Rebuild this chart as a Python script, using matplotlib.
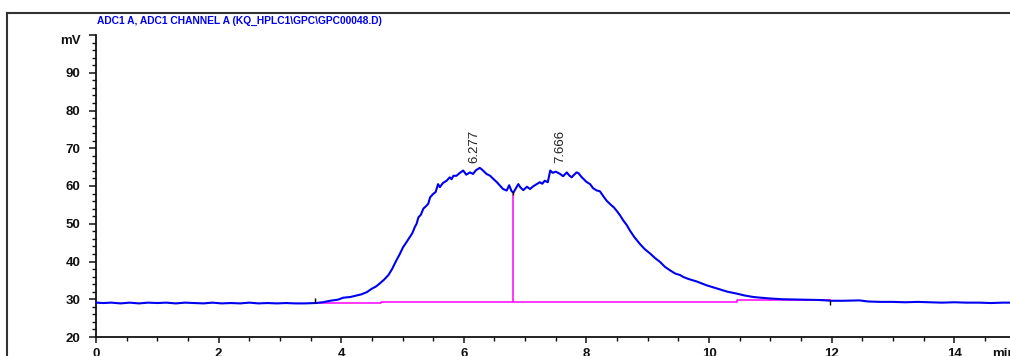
import numpy as np
import matplotlib
matplotlib.use("Agg")
import matplotlib.pyplot as plt
from matplotlib.lines import Line2D

plt.rcParams['font.family'] = ['Liberation Sans', 'DejaVu Sans']

title = r"ADC1 A, ADC1 CHANNEL A (KQ_HPLC1\GPC\GPC00048.D)"

# signal (min, mV)
time_min = [0.00, 0.12, 0.25, 0.40, 0.55, 0.70, 0.85, 1.00, 1.15, 1.30, 1.45, 1.60,
            1.75, 1.90, 2.05, 2.20, 2.35, 2.50, 2.65, 2.80, 2.95, 3.10, 3.25, 3.40,
            3.58, 3.70, 3.82, 3.95, 4.03, 4.15, 4.25, 4.33, 4.42, 4.50, 4.57, 4.63,
            4.70, 4.77, 4.83, 4.90, 4.95, 5.01, 5.06, 5.12, 5.16, 5.20, 5.23, 5.26,
            5.30, 5.34, 5.38, 5.42, 5.45, 5.50, 5.54, 5.58, 5.61, 5.66, 5.72, 5.77,
            5.80, 5.83, 5.88, 5.93, 5.99, 6.04, 6.10, 6.15, 6.20, 6.26, 6.30, 6.37,
            6.43, 6.48, 6.54, 6.59, 6.64, 6.70, 6.74, 6.78, 6.81, 6.85, 6.89, 6.92,
            6.97, 7.03, 7.08, 7.13, 7.19, 7.24, 7.28, 7.32, 7.37, 7.41, 7.45, 7.50,
            7.57, 7.62, 7.68, 7.72, 7.76, 7.80, 7.84, 7.87, 7.92, 8.00, 8.06, 8.11,
            8.17, 8.22, 8.28, 8.33, 8.40, 8.45, 8.49, 8.55, 8.60, 8.66, 8.71, 8.78,
            8.87, 8.95, 9.04, 9.12, 9.20, 9.28, 9.36, 9.45, 9.53, 9.58, 9.66, 9.74,
            9.80, 9.88, 9.96, 10.02, 10.10, 10.18, 10.30, 10.45, 10.58, 10.72, 10.85,
            11.00, 11.20, 11.53, 11.80, 12.00, 12.20, 12.45, 12.60, 12.80, 13.00,
            13.20, 13.40, 13.60, 13.80, 14.00, 14.20, 14.40, 14.60, 14.80, 14.91]
signal_mv = [29.1, 29.0, 29.1, 28.9, 29.1, 28.9, 29.1, 29.0, 29.1, 28.9, 29.1, 29.0,
             28.9, 29.1, 28.9, 29.0, 28.9, 29.1, 28.9, 29.0, 28.9, 29.0, 28.9, 28.9,
             29.0, 29.2, 29.6, 29.9, 30.4, 30.6, 31.0, 31.3, 31.9, 32.8, 33.4, 34.2,
             35.2, 36.4, 38.0, 40.3, 41.8, 43.8, 45.0, 46.5, 47.5, 49.1, 50.0, 51.7,
             52.4, 54.0, 54.6, 55.3, 57.0, 57.9, 58.4, 60.5, 59.7, 60.8, 61.4, 62.3,
             61.8, 62.7, 62.7, 63.4, 64.1, 63.0, 63.6, 63.2, 64.2, 64.8, 64.3, 63.2,
             62.7, 61.9, 61.0, 60.1, 59.2, 58.8, 60.2, 58.6, 58.3, 59.4, 60.5, 59.7,
             58.9, 59.8, 59.2, 59.9, 60.5, 61.0, 60.6, 61.4, 61.0, 64.1, 63.5, 63.8,
             63.2, 62.6, 63.6, 62.8, 62.3, 63.0, 63.6, 63.4, 62.4, 61.1, 60.5, 59.4,
             58.8, 58.6, 57.2, 56.1, 55.0, 54.3, 53.5, 52.2, 50.9, 49.6, 48.2, 46.5,
             44.7, 43.3, 42.1, 40.9, 39.9, 38.6, 37.7, 36.8, 36.4, 35.9, 35.4, 35.0,
             34.7, 34.2, 33.7, 33.4, 33.0, 32.6, 32.0, 31.5, 31.0, 30.6, 30.4,
             30.2, 30.0, 29.9, 29.8, 29.6, 29.6, 29.7, 29.4, 29.3, 29.3,
             29.2, 29.3, 29.2, 29.1, 29.2, 29.1, 29.1, 29.0, 29.1, 29.1]

# integration baseline (drawn stepped, as on the printout)
base_x = [3.58, 4.65, 10.45, 11.97]
base_y = [28.9, 29.2, 29.8, 29.8]
split_time = 6.81
split_base, split_top = 29.2, 58.3

peak_times = [6.277, 7.666]
peak_labels = ["6.277", "7.666"]
peak_heights = [66.0, 66.0]

blue = "#0000f0"
magenta = "#ff00ff"

fig = plt.figure(figsize=(10.10, 3.56), dpi=100)
ax = fig.add_axes([96 / 1010, 19 / 356, (1010 - 96) / 1010, (337 - 35) / 356])

ax.plot(time_min, signal_mv, color=blue, lw=1.5, zorder=3)
ax.plot(base_x, base_y, color=magenta, lw=1.1, drawstyle="steps-post", zorder=2)
ax.vlines(split_time, split_base, split_top, color=magenta, lw=1.1, zorder=2)
ax.vlines(split_time, split_top - 0.8, split_top + 0.3, color="black", lw=1.0, zorder=4)
ax.vlines(base_x[0], base_y[0], base_y[0] + 1.3, color="black", lw=1.0, zorder=4)
ax.vlines(base_x[-1], base_y[-1] - 1.4, base_y[-1], color="black", lw=1.0, zorder=4)

for t, lab, h in zip(peak_times, peak_labels, peak_heights):
    ax.text(t, h, lab, rotation=90, ha="right", va="bottom", fontsize=9.5,
            color="#222222")

ax.set_xlim(0, 14.91)
ax.set_ylim(20, 100)
ax.set_xticks(np.arange(0, 15, 2))
ax.set_xticks(np.arange(0, 15, 0.5), minor=True)
ax.set_yticks(np.arange(20, 101, 10))
ax.set_yticks(np.arange(20, 101, 2), minor=True)
ylabels = [str(v) for v in range(20, 100, 10)] + ["mV"]
ax.set_yticklabels(ylabels)
ax.get_yticklabels()[-1].set_verticalalignment("top")

for s in ["top", "right"]:
    ax.spines[s].set_visible(False)
for s in ["left", "bottom"]:
    ax.spines[s].set_linewidth(1.3)
    ax.spines[s].set_color("#111111")

ax.tick_params(axis="y", which="major", direction="out", length=5, width=1.1,
               labelsize=9.5, colors="#111111", pad=6)
ax.tick_params(axis="y", which="minor", direction="out", length=3.2, width=1.0,
               colors="#111111")
ax.tick_params(axis="x", which="major", direction="out", length=4.3, width=1.1,
               labelsize=9.5, colors="#111111", pad=3.5)
ax.tick_params(axis="x", which="minor", direction="out", length=2.9, width=1.0,
               colors="#111111")
for lab in ax.get_xticklabels() + ax.get_yticklabels():
    lab.set_fontweight("bold")

ax.annotate("min", xy=(14.62, 0), xycoords=("data", "axes fraction"),
            xytext=(0, -7.8), textcoords="offset points", ha="left", va="top",
            fontsize=9.5, fontweight="bold", color="#111111", annotation_clip=False)

fig.text(97 / 1010, 1 - 20.5 / 356, title, ha="left", va="center", fontsize=7.4,
         fontweight="bold", color=blue)

# outer frame of the report page
fy = 1 - 13 / 356
fx = 7 / 1010
fig.add_artist(Line2D([fx, 1.0], [fy, fy], transform=fig.transFigure,
                      color="#333333", lw=1.5))
fig.add_artist(Line2D([fx, fx], [0, fy], transform=fig.transFigure,
                      color="#333333", lw=1.5))

fig.savefig("out.png", dpi=100)
